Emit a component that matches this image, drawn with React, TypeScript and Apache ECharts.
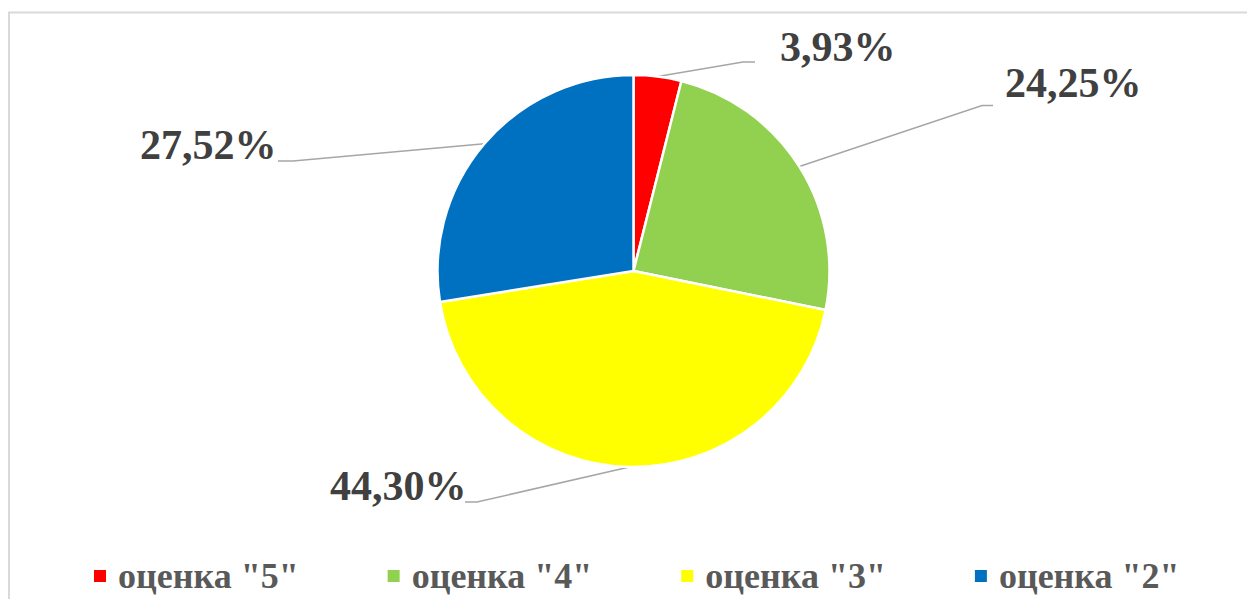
import React, { useEffect, useRef } from "react";
import * as echarts from "echarts";

const categories = ['оценка "5"', 'оценка "4"', 'оценка "3"', 'оценка "2"'];
const values = [3.93, 24.25, 44.3, 27.52];
const labelTexts = ["3,93%", "24,25%", "44,30%", "27,52%"];
const colors = ["#FF0000", "#92D050", "#FFFF00", "#0070C0"];

const FONT = "'Liberation Serif', 'Times New Roman', Times, serif";

// label placement (styling): text anchor and leader-line elbow/end
const labelPlacement = [
  { x: 780, y: 47, align: "left", elbow: [743, 62], end: [755, 62] },
  { x: 1005, y: 83, align: "left", elbow: [982, 105.5], end: [993, 105.5] },
  { x: 330, y: 486, align: "left", elbow: [477, 502], end: [465, 502] },
  { x: 140, y: 145, align: "left", elbow: [293, 161], end: [278, 161] },
];

export default function App() {
  const ref = useRef<HTMLDivElement>(null);
  useEffect(() => {
    if (!ref.current) return;
    const chart = echarts.init(ref.current, null, { renderer: "svg" });
    chart.setOption({
      animation: false,
      backgroundColor: "#ffffff",
      graphic: [
        {
          type: "rect",
          shape: { x: 9, y: 12.5, width: 1300, height: 700 },
          style: { fill: "none", stroke: "#D9D9D9", lineWidth: 2 },
          silent: true,
          z: -1,
        },
      ],
      legend: {
        data: categories,
        left: 92,
        top: 558,
        padding: 0,
        icon: "rect",
        itemWidth: 14,
        itemHeight: 14,
        itemGap: 87,
        textStyle: {
          color: "#595959",
          fontFamily: FONT,
          fontWeight: "bold",
          fontSize: 36,
          lineHeight: 36,
          padding: [0, 0, 0, 6],
        },
      },
      series: [
        {
          type: "pie",
          center: [633.5, 271],
          radius: 196,
          startAngle: 90,
          clockwise: true,
          itemStyle: { borderColor: "#ffffff", borderWidth: 2.5 },
          label: {
            show: true,
            position: "outside",
            color: "#404040",
            fontFamily: FONT,
            fontWeight: "bold",
            fontSize: 42,
            formatter: (p: any) => labelTexts[p.dataIndex],
          },
          labelLine: {
            show: true,
            length: 20,
            length2: 10,
            lineStyle: { color: "#A6A6A6", width: 1.5 },
          },
          labelLayout: (params: any) => {
            const cfg = labelPlacement[params.dataIndex];
            const pts = params.labelLinePoints;
            return {
              x: cfg.x,
              y: cfg.y,
              align: cfg.align,
              verticalAlign: "middle",
              labelLinePoints: [pts[0], cfg.elbow, cfg.end],
            };
          },
          emphasis: { disabled: true },
          data: categories.map((name, i) => ({
            name,
            value: values[i],
            itemStyle: { color: colors[i] },
          })),
        },
      ],
    });
    return () => chart.dispose();
  }, []);
  return (
    <div
      ref={ref}
      style={{ position: "fixed", left: 0, top: 0, width: 1247, height: 599 }}
    />
  );
}
